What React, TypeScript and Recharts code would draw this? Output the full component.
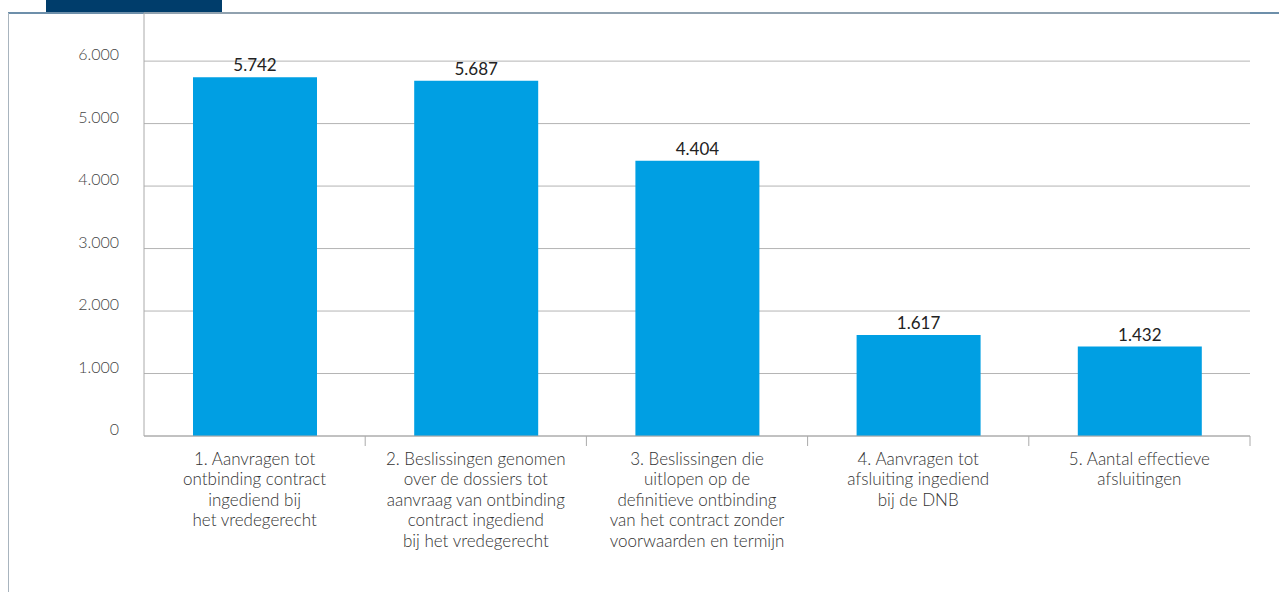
import { Bar, BarChart, CartesianGrid, LabelList, XAxis, YAxis } from "recharts";

const categories = [
	["1. Aanvragen tot", "ontbinding contract", "ingediend bij", "het vredegerecht"],
	["2. Beslissingen genomen", "over de dossiers tot", "aanvraag van ontbinding", "contract ingediend", "bij het vredegerecht"],
	["3. Beslissingen die", "uitlopen op de", "definitieve ontbinding", "van het contract zonder", "voorwaarden en termijn"],
	["4. Aanvragen tot", "afsluiting ingediend", "bij de DNB"],
	["5. Aantal effectieve", "afsluitingen"],
];
const values = [5742, 5687, 4404, 1617, 1432];
const yTicks = [0, 1000, 2000, 3000, 4000, 5000, 6000];

const data = categories.map((lines, i) => ({ name: lines.join(" "), lines, value: values[i] }));

const FONT = "Lato, sans-serif";
const BLUE = "#009fe3";

// thousands with a dot, as in Dutch
const fmt = (v: number) => String(v).replace(/\B(?=(\d{3})+(?!\d))/g, ".");

function CategoryTick(props: any) {
	const { x, y, payload, index } = props;
	const lines: string[] = data[index]?.lines ?? [String(payload.value)];
	const half = payload.offset ?? 0;
	return (
		<g>
			<line x1={x + half} x2={x + half} y1={y} y2={y + 10} stroke="#aaa" />
			<text x={x} y={y + 29} textAnchor="middle" fontFamily={FONT} fontSize={17} fontWeight={300} fill="#333">
				{lines.map((l, i) => (
					<tspan key={i} x={x} dy={i === 0 ? 0 : 20.4}>
						{l}
					</tspan>
				))}
			</text>
		</g>
	);
}

function ValueTick(props: any) {
	const { x, y, payload } = props;
	return (
		<text x={x - 17} y={y} dy={-1} textAnchor="end" fontFamily={FONT} fontSize={16} fontWeight={300} fill="#444">
			{fmt(payload.value)}
		</text>
	);
}

export default function App() {
	return (
		<div style={{ position: "fixed", left: 0, top: 0, width: 1279, height: 592, background: "#fff", overflow: "hidden" }}>
			<div style={{ position: "absolute", left: 46, top: 0, width: 176, height: 12, background: "#003d6b" }} />
			<div style={{ position: "absolute", left: 8, top: 12, right: 0, height: 1.5, background: "#6d8faa" }} />
			<div style={{ position: "absolute", left: 8, top: 13, width: 1, bottom: 0, background: "#a8b4be" }} />
			<div style={{ position: "absolute", left: 0, top: 0 }}>
				<BarChart width={1279} height={592} data={data} margin={{ top: 13, right: 29, bottom: 0, left: 0 }}>
					<CartesianGrid vertical={false} stroke="#b4b4b4" />
					<XAxis
						dataKey="name"
						height={156}
						tickSize={0}
						tickMargin={0}
						tickLine={false}
						axisLine={{ stroke: "#aaa" }}
						tick={<CategoryTick />}
						interval={0}
					/>
					<YAxis
						width={144}
						domain={[0, 6770]}
						ticks={yTicks}
						tickLine={false}
						axisLine={{ stroke: "#aaa" }}
						tick={<ValueTick />}
						allowDataOverflow
					/>
					<Bar dataKey="value" fill={BLUE} barSize={124} isAnimationActive={false}>
						<LabelList
							dataKey="value"
							position="top"
							offset={6}
							formatter={(v: any) => fmt(Number(v))}
							style={{ fontFamily: FONT, fontSize: 17, fill: "#222" }}
						/>
					</Bar>
				</BarChart>
			</div>
		</div>
	);
}
